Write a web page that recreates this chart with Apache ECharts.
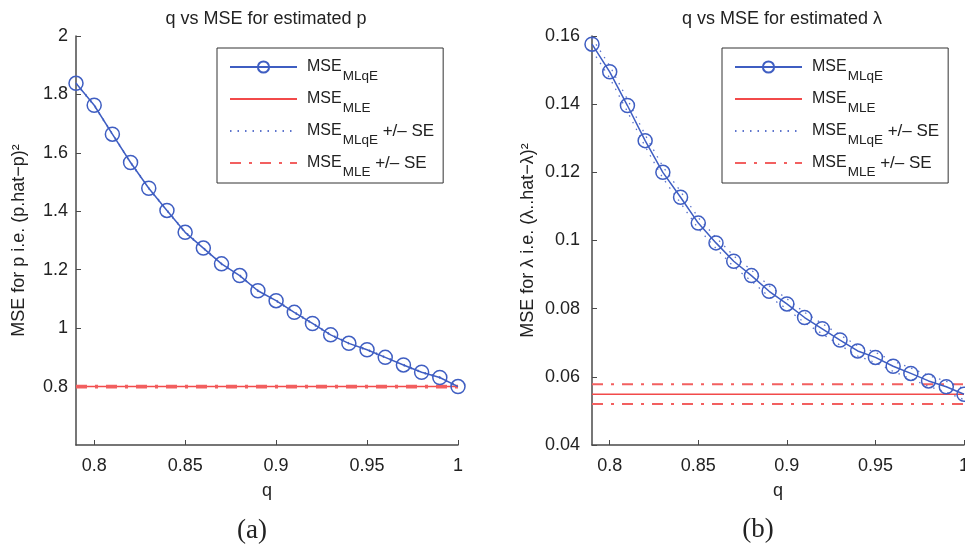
<!DOCTYPE html>
<html>
<head>
<meta charset="utf-8">
<script src="https://cdn.jsdelivr.net/npm/echarts@6/dist/echarts.min.js"></script>
<style>
  html, body { margin: 0; padding: 0; background: #fff; }
  #chart { width: 965px; height: 550px; }
</style>
</head>
<body>
<div id="chart"></div>
<script>
// q grid shared by both panels
const qValues = [0.79, 0.80, 0.81, 0.82, 0.83, 0.84, 0.85, 0.86, 0.87, 0.88, 0.89,
                 0.90, 0.91, 0.92, 0.93, 0.94, 0.95, 0.96, 0.97, 0.98, 0.99, 1.00];

// Panel (a): estimated p
const mseMLqEp = [1.838, 1.763, 1.664, 1.567, 1.479, 1.403, 1.328, 1.274, 1.220, 1.180, 1.128,
                  1.094, 1.054, 1.016, 0.977, 0.948, 0.926, 0.900, 0.874, 0.849, 0.831, 0.800];
const seMLqEp  = [0.002, 0.002, 0.002, 0.002, 0.002, 0.002, 0.002, 0.002, 0.002, 0.002, 0.002,
                  0.002, 0.002, 0.002, 0.002, 0.002, 0.002, 0.002, 0.002, 0.002, 0.002, 0.002];
const mseMLEp = 0.800;
const seMLEp  = 0.003;

// Panel (b): estimated lambda
const mseMLqEl = [0.1576, 0.1495, 0.1396, 0.1293, 0.1200, 0.1127, 0.1051, 0.0993, 0.0939, 0.0897, 0.0851,
                  0.0814, 0.0774, 0.0741, 0.0708, 0.0676, 0.0657, 0.0631, 0.0610, 0.0588, 0.0571, 0.0549];
const seMLqEl  = [0.0018, 0.0018, 0.0018, 0.0017, 0.0017, 0.0017, 0.0016, 0.0016, 0.0016, 0.0016, 0.0016,
                  0.0015, 0.0015, 0.0015, 0.0015, 0.0015, 0.0015, 0.0015, 0.0016, 0.0016, 0.0016, 0.0016];
const mseMLEl = 0.0549;
const seMLEl  = 0.0029;

// Axis tick labels
const qTicks = [0.8, 0.85, 0.9, 0.95, 1];
const pTicks = [0.8, 1, 1.2, 1.4, 1.6, 1.8, 2];
const lTicks = [0.04, 0.06, 0.08, 0.1, 0.12, 0.14, 0.16];

const titles = ['q vs MSE for estimated p', 'q vs MSE for estimated \u03bb'];
const yNames = ['MSE for p i.e. (p.hat\u2212p)\u00b2', 'MSE for \u03bb i.e. (\u03bb..hat\u2212\u03bb)\u00b2'];
const captions = ['(a)', '(b)'];

const names = {
  mlqe: 'MSE_MLqE',
  mle: 'MSE_MLE',
  mlqeSE: 'MSE_MLqE +/\u2212 SE',
  mleSE: 'MSE_MLE +/\u2212 SE'
};
const legendRich = {};
legendRich[names.mlqe] = '{a|MSE}{s|MLqE}';
legendRich[names.mle] = '{a|MSE}{s|MLE}';
legendRich[names.mlqeSE] = '{a|MSE}{s|MLqE}{m| +/\u2013 SE}';
legendRich[names.mleSE] = '{a|MSE}{s|MLE}{m| +/\u2013 SE}';

const FONT = 'Liberation Sans, Arial, Helvetica, sans-serif';
const BLUE = '#3f5ec2';
const BLUE_DOT = '#5d74cc';
const RED = '#f24a4a';
const RED_DD = '#f26060';
const AXIS = '#4a4a4a';
const TEXT = '#222';

const pairs = (ys) => qValues.map((q, i) => [q, ys[i]]);
const flat = (v) => [[qValues[0], v], [qValues[qValues.length - 1], v]];
const offset = (ys, se, sign) => qValues.map((q, i) => [q, ys[i] + sign * se[i]]);

function panelSeries(idx, mlqe, seq, mle, sem) {
  return [
    {
      name: names.mle, type: 'line', xAxisIndex: idx, yAxisIndex: idx,
      data: flat(mle), symbol: 'none',
      itemStyle: { color: 'transparent', borderWidth: 0 },
      lineStyle: { color: RED, width: 1.5 }, z: 2
    },
    {
      name: names.mleSE, type: 'line', xAxisIndex: idx, yAxisIndex: idx,
      data: flat(mle + sem), symbol: 'none',
      itemStyle: { color: 'transparent', borderWidth: 0 },
      lineStyle: { color: RED_DD, width: 2, type: [11, 8, 3, 8] }, z: 2
    },
    {
      name: names.mleSE, type: 'line', xAxisIndex: idx, yAxisIndex: idx,
      data: flat(mle - sem), symbol: 'none',
      itemStyle: { color: 'transparent', borderWidth: 0 },
      lineStyle: { color: RED_DD, width: 2, type: [11, 8, 3, 8] }, z: 2
    },
    {
      name: names.mlqeSE, type: 'line', xAxisIndex: idx, yAxisIndex: idx,
      data: offset(mlqe, seq, 1), symbol: 'none',
      itemStyle: { color: 'transparent', borderWidth: 0 },
      lineStyle: { color: BLUE_DOT, width: 1.3, type: [1.5, 6] }, z: 3
    },
    {
      name: names.mlqeSE, type: 'line', xAxisIndex: idx, yAxisIndex: idx,
      data: offset(mlqe, seq, -1), symbol: 'none',
      itemStyle: { color: 'transparent', borderWidth: 0 },
      lineStyle: { color: BLUE_DOT, width: 1.3, type: [1.5, 6] }, z: 3
    },
    {
      name: names.mlqe, type: 'line', xAxisIndex: idx, yAxisIndex: idx,
      data: pairs(mlqe), symbol: 'circle', symbolSize: 14, showAllSymbol: true,
      itemStyle: { color: 'transparent', borderColor: BLUE, borderWidth: 1.5 },
      lineStyle: { color: BLUE, width: 1.5 }, z: 4
    }
  ];
}

function xAxis(idx) {
  return {
    type: 'value', gridIndex: idx, min: 0.79, max: 1,
    name: 'q', nameLocation: 'middle', nameGap: 37,
    nameTextStyle: { fontFamily: FONT, fontSize: 18, color: TEXT },
    axisLine: { show: true, lineStyle: { color: AXIS, width: 1.5 } },
    axisTick: { show: true, inside: true, length: 5, customValues: qTicks, lineStyle: { color: AXIS } },
    axisLabel: { customValues: qTicks, margin: 12, fontFamily: FONT, fontSize: 18, color: TEXT },
    splitLine: { show: false }
  };
}

function yAxis(idx, min, max, ticks, nameGap, margin) {
  return {
    type: 'value', gridIndex: idx, min: min, max: max,
    name: yNames[idx], nameLocation: 'middle', nameGap: nameGap, nameRotate: 90,
    nameTextStyle: { fontFamily: FONT, fontSize: 18, color: TEXT },
    axisLine: { show: true, lineStyle: { color: AXIS, width: 1.5 } },
    axisTick: { show: true, inside: true, length: 5, customValues: ticks, lineStyle: { color: AXIS } },
    axisLabel: { customValues: ticks, margin: margin, fontFamily: FONT, fontSize: 18, color: TEXT },
    splitLine: { show: false }
  };
}

function legend(left) {
  return {
    orient: 'vertical', left: left, top: 48,
    data: [names.mlqe, names.mle, names.mlqeSE, names.mleSE],
    selectedMode: false,
    itemWidth: 67, itemHeight: 14, itemGap: 0,
    padding: [3, 9, 4, 12],
    borderColor: '#333', borderWidth: 1, backgroundColor: '#fff',
    formatter: (n) => legendRich[n],
    textStyle: {
      fontFamily: FONT, color: TEXT,
      rich: {
        a: { fontFamily: FONT, fontSize: 16, lineHeight: 20, color: TEXT, padding: [0, 0, 0, 5] },
        m: { fontFamily: FONT, fontSize: 17, lineHeight: 20, color: TEXT },
        s: { fontFamily: FONT, fontSize: 13.5, lineHeight: 14, color: TEXT, padding: [18, 0, 0, 1] }
      }
    }
  };
}

const chart = echarts.init(document.getElementById('chart'), null, { renderer: 'canvas' });
chart.setOption({
  animation: false,
  backgroundColor: '#fff',
  grid: [
    { left: 76, right: 507, top: 36, bottom: 105, outerBoundsMode: 'none', containLabel: false },
    { left: 592, right: 1, top: 36, bottom: 105, outerBoundsMode: 'none', containLabel: false }
  ],
  xAxis: [xAxis(0), xAxis(1)],
  yAxis: [
    yAxis(0, 0.6, 2, pTicks, 48, 8),
    yAxis(1, 0.04, 0.16, lTicks, 55, 12)
  ],
  legend: [legend(217), legend(722)],
  series: [].concat(
    panelSeries(0, mseMLqEp, seMLqEp, mseMLEp, seMLEp),
    panelSeries(1, mseMLqEl, seMLqEl, mseMLEl, seMLEl)
  ),
  graphic: [
    { type: 'text', x: 266, y: 19, style: { text: titles[0], fontFamily: FONT, fontSize: 18, fill: TEXT, textAlign: 'center', textVerticalAlign: 'middle' } },
    { type: 'text', x: 782, y: 19, style: { text: titles[1], fontFamily: FONT, fontSize: 18, fill: TEXT, textAlign: 'center', textVerticalAlign: 'middle' } },
    { type: 'text', x: 252, y: 531, style: { text: captions[0], fontFamily: 'Liberation Serif, DejaVu Serif, serif', fontSize: 27, fill: TEXT, textAlign: 'center', textVerticalAlign: 'middle' } },
    { type: 'text', x: 758, y: 530, style: { text: captions[1], fontFamily: 'Liberation Serif, DejaVu Serif, serif', fontSize: 27, fill: TEXT, textAlign: 'center', textVerticalAlign: 'middle' } }
  ]
});
</script>
</body>
</html>
